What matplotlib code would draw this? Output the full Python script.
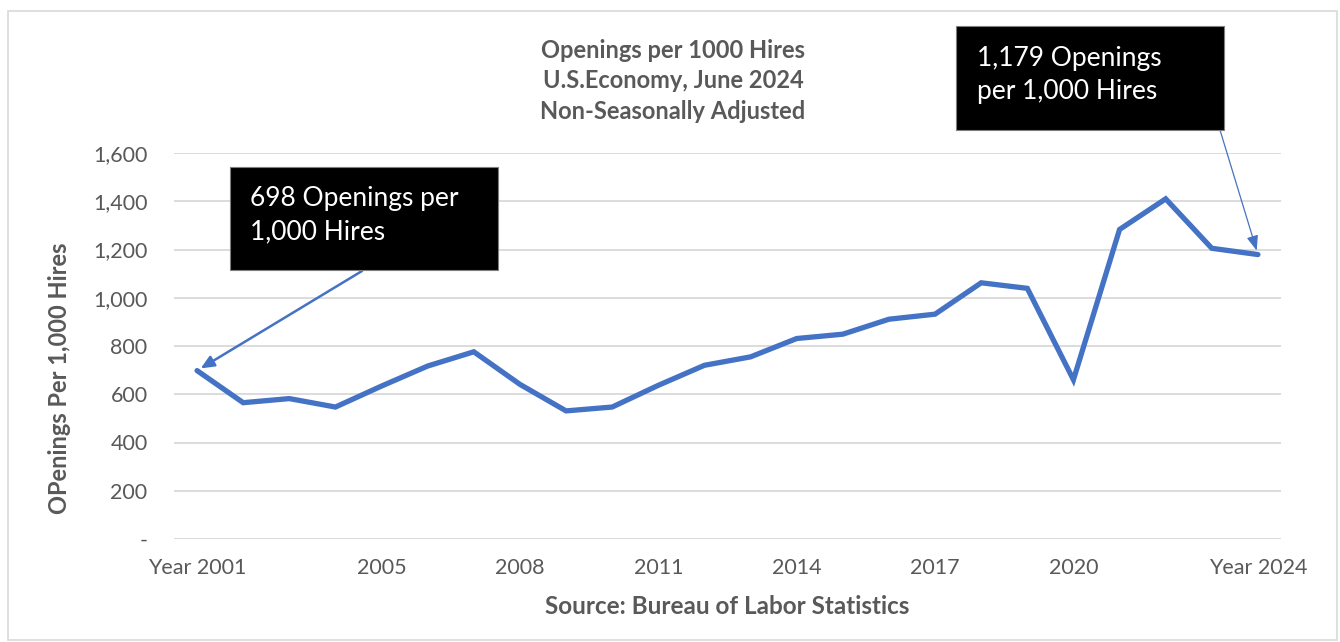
import matplotlib
matplotlib.use("Agg")
import matplotlib.pyplot as plt
from matplotlib.patches import Rectangle

plt.rcParams['font.family'] = ['Lato', 'DejaVu Sans']

# Openings per 1,000 hires, June of each year
years = list(range(2001, 2025))
openings = [698, 565, 582, 547, 634, 717, 776, 641, 531, 547, 637, 720,
            755, 831, 849, 911, 932, 1062, 1039, 660, 1283, 1410, 1205, 1179]
tick_years = [2001, 2005, 2008, 2011, 2014, 2017, 2020, 2024]
tick_labels = ["Year 2001", "2005", "2008", "2011", "2014", "2017", "2020", "Year 2024"]
y_ticks = [0, 200, 400, 600, 800, 1000, 1200, 1400, 1600]
y_labels = ["-", "200", "400", "600", "800", "1,000", "1,200", "1,400", "1,600"]

W, H = 1340, 642
fig = plt.figure(figsize=(W / 100, H / 100), dpi=100)
grey = "#595959"

# outer chart border
fig.patches.append(Rectangle((8 / W, 2 / H), 1329 / W, 629 / H, transform=fig.transFigure,
                             fill=False, edgecolor="#d9d9d9", linewidth=1.2))

ax = fig.add_axes([174 / W, 1 - 539 / H, (1281 - 174) / W, (539 - 153) / H])
idx = list(range(len(years)))
ax.plot(idx, openings, color="#4472C4", linewidth=3.8, solid_joinstyle="miter",
        solid_capstyle="round", zorder=3)
ax.set_xlim(-0.5, len(years) - 0.5)
ax.set_ylim(0, 1600)
ax.set_yticks(y_ticks)
ax.set_yticklabels(y_labels)
ax.set_xticks([years.index(y) for y in tick_years])
ax.set_xticklabels(tick_labels)
ax.tick_params(length=0, labelsize=15.5, colors=grey)
ax.tick_params(axis="y", pad=19)
ax.tick_params(axis="x", pad=14)
ax.grid(axis="y", color="#d9d9d9", linewidth=1.3)
ax.set_axisbelow(True)
for s in ax.spines.values():
    s.set_visible(False)

fig.text(60 / W, 1 - 378 / H, "OPenings Per 1,000 Hires", rotation=90, ha="center",
         va="center", fontsize=17, fontweight="bold", color=grey)
fig.text(727 / W, 1 - 607 / H, "Source: Bureau of Labor Statistics", ha="center",
         va="center", fontsize=17.5, fontweight="bold", color=grey)
fig.text(673 / W, 1 - 81 / H, "Openings per 1000 Hires\nU.S.Economy, June 2024\nNon-Seasonally Adjusted",
         ha="center", va="center", fontsize=17, fontweight="bold", color=grey, linespacing=1.38)

# callout boxes
fig.patches.append(Rectangle((230 / W, 1 - 270 / H), 268 / W, 103 / H, transform=fig.transFigure,
                             facecolor="black", edgecolor="#7f7f7f", linewidth=0.8, zorder=5))
fig.text(250 / W, 1 - 215 / H, "698 Openings per\n1,000 Hires", ha="left", va="center",
         fontsize=19, color="white", linespacing=1.4, zorder=6)
fig.patches.append(Rectangle((956 / W, 1 - 130 / H), 268 / W, 104 / H, transform=fig.transFigure,
                             facecolor="black", edgecolor="#7f7f7f", linewidth=0.8, zorder=5))
fig.text(977 / W, 1 - 75 / H, "1,179 Openings\nper 1,000 Hires", ha="left", va="center",
         fontsize=19, color="white", linespacing=1.4, zorder=6)

# arrows pointing at first and last values
ax.annotate("", xy=(0, openings[0]), xytext=(362 / W, 1 - 271 / H),
            textcoords="figure fraction",
            arrowprops=dict(arrowstyle="-|>,head_length=0.8,head_width=0.35",
                            color="#4472C4", lw=1.8, shrinkA=0, shrinkB=3))
ax.annotate("", xy=(len(years) - 1, openings[-1]), xytext=(1220 / W, 1 - 130 / H),
            textcoords="figure fraction",
            arrowprops=dict(arrowstyle="-|>,head_length=0.9,head_width=0.35",
                            color="#4472C4", lw=0.9, shrinkA=0, shrinkB=3))

fig.savefig("out.png", dpi=100, facecolor="white")
